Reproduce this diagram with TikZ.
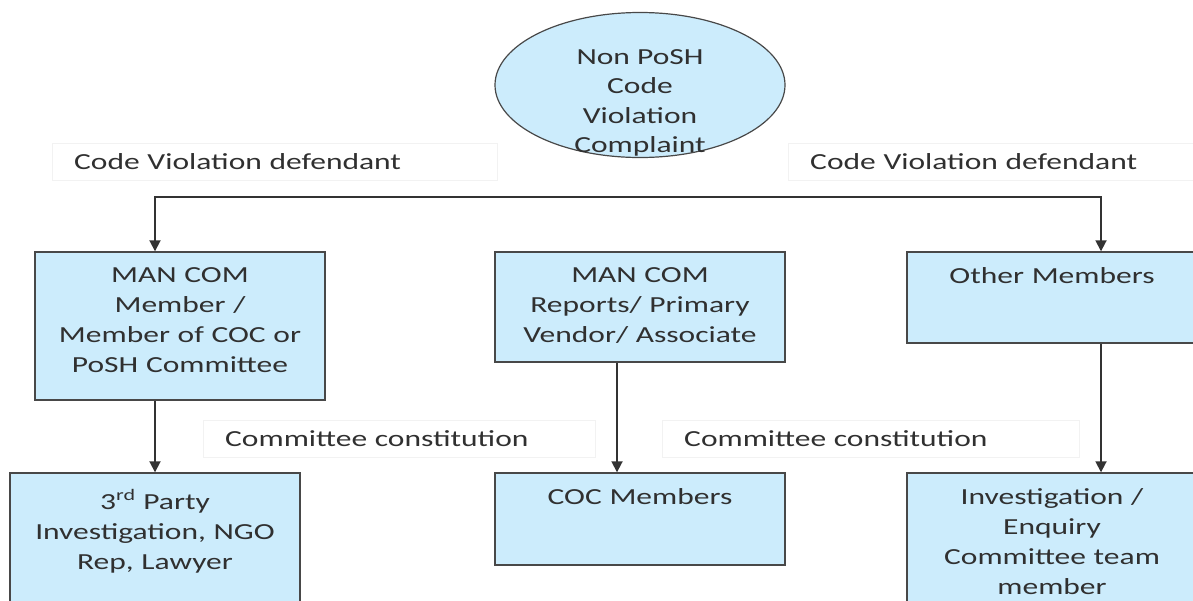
\documentclass[tikz,border=0pt]{standalone}
\usepackage{fontspec}
\setmainfont[FakeStretch=1.37]{Carlito}
\usetikzlibrary{positioning,shapes.geometric,arrows.meta}
\definecolor{boxblue}{RGB}{204,236,252}
\definecolor{edgegray}{RGB}{72,72,72}
\definecolor{txtgray}{RGB}{48,48,48}
\newcommand{\toptext}[2]{\parbox[c][#1][t]{\linewidth}{\centering\vspace*{16pt}#2}}

\begin{document}
\begin{tikzpicture}[x=1pt,y=-1pt, font=\fontsize{23}{30}\selectfont, text=txtgray,
      arrowstyle/.style={-{Triangle[length=11pt,width=11pt]}, line width=1.8pt, draw=black!80}]
  % A box style
  \tikzstyle{boxnode} = [draw=edgegray, fill=boxblue, line width=1.4pt, rectangle, inner xsep=0pt, inner ysep=0pt, text width=290pt]
  % faint label boxes
  \tikzstyle{tagnode} = [draw=black!5, fill=white, rectangle, anchor=west, minimum height=37pt, inner xsep=22pt, align=left]

  \useasboundingbox (0,0) rectangle (1193,600);

  % the labels
  \node (tagLt) [tagnode, text width=401pt] at (52,162) {Code Violation defendant};
  \node (tagRt) [tagnode, text width=368pt] at (788,162) {Code Violation defendant};
  \node (tagLb) [tagnode, text width=348pt] at (203,439) {Committee constitution};
  \node (tagRb) [tagnode, text width=373pt] at (662,439) {Committee constitution};

  % the complaint on top
  \node (complaint) [ellipse, draw=edgegray, fill=boxblue, line width=1.2pt, minimum width=290pt, minimum height=145pt] at (640,85) {};
  \node (complainttxt) [align=center, font=\fontsize{23}{29.5}\selectfont] at (640,103) {Non PoSH\\Code\\Violation\\Complaint};

  % first row of boxes
  \node (mancom) [boxnode] at (180,326) {\toptext{148pt}{MAN COM\\Member /\\Member of COC or\\PoSH Committee}};
  \node (reports) [boxnode] at (640,307) {\toptext{110pt}{MAN COM\\Reports/ Primary\\Vendor/ Associate}};
  \node (other) [boxnode] at (1052,297.5) {\toptext{91pt}{Other Members}};

  % second row of boxes
  \node (party) [boxnode] at (155,543) {\toptext{140pt}{3\textsuperscript{rd} Party\\Investigation, NGO\\Rep, Lawyer}};
  \node (coc) [boxnode] at (640,519) {\toptext{92pt}{COC Members}};
  \node (enquiry) [boxnode] at (1052,543) {\toptext{140pt}{Investigation /\\Enquiry\\Committee team\\member}};

  % split line to the defendants
  \coordinate (split) at (640,197);
  \draw[arrowstyle] (split) -| ([xshift=-25pt]mancom.north);
  \draw[arrowstyle] (split) -| ([xshift=49pt]other.north);

  % draw arrows downwards
  \draw[arrowstyle] (mancom.south -| party.north) -- (party.north);
  \draw[arrowstyle] ([xshift=-23pt]reports.south) -- ([xshift=-23pt]coc.north);
  \draw[arrowstyle] ([xshift=49pt]other.south) -- ([xshift=49pt]enquiry.north);
\end{tikzpicture}
\end{document}
